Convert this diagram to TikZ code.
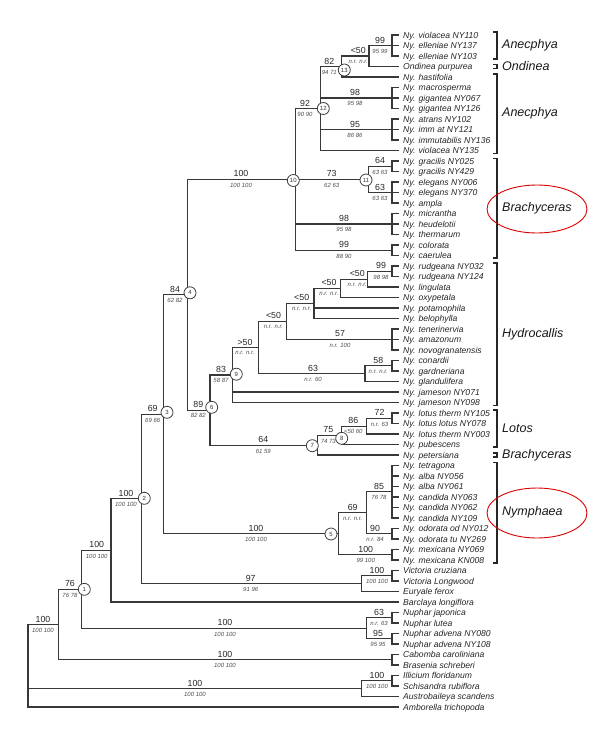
\documentclass[tikz,border=0pt]{standalone}
\usepackage{fontspec}
\setmainfont{Liberation Sans}
\begin{document}
\begin{tikzpicture}[x=1pt,y=-1pt,
  br/.style={draw=black!78,line width=1.05pt,line cap=rect},
  leaf/.style={anchor=west,inner xsep=5pt,inner ysep=0pt,text height=6.1pt,text depth=0pt,font=\fontsize{8.6}{10}\selectfont\itshape,text=black!85},
  bnum/.style={inner sep=0pt,font=\fontsize{8.8}{10}\selectfont,text=black!85},
  snum/.style={inner sep=0pt,font=\fontsize{6}{7}\selectfont\itshape,text=black!70},
  knot/.style={circle,draw=black!75,fill=white,line width=0.8pt,minimum size=12pt,inner sep=0pt,font=\fontsize{6}{7}\selectfont,text=black!80},
  grp/.style={anchor=west,inner sep=0pt,font=\fontsize{12.5}{14}\selectfont\itshape,text=black!90},
  brk/.style={draw=black!85,line width=1.2pt},
  oval/.style={draw=red!85!black,line width=0.9pt}]
\useasboundingbox[fill=white] (0,0) rectangle (595,739);
\newcommand\cl[4]{%
  \draw[br] (#1 |- #2) -- (#1 |- #3);
  \foreach \ch in {#4}{\draw[br] (#1 |- \ch) -- (\ch);}}
\newcommand\bl[4]{%
  \node[bnum] at (#1,{#2-5.5}) {#3};
  \node[snum] at (#1,{#2+5.8}) {#4};}
% leaves
\foreach \nm [count=\i] in {Ny. violacea NY110,Ny. elleniae NY137,Ny. elleniae NY103,Ondinea purpurea,Ny. hastifolia,Ny. macrosperma,Ny. gigantea NY067,Ny. gigantea NY126,Ny. atrans NY102,Ny. imm at NY121,Ny. immutabilis NY136,Ny. violacea NY135,Ny. gracilis NY025,Ny. gracilis NY429,Ny. elegans NY006,Ny. elegans NY370,Ny. ampla,Ny. micrantha,Ny. heudelotii,Ny. thermarum,Ny. colorata,Ny. caerulea,Ny. rudgeana NY032,Ny. rudgeana NY124,Ny. lingulata,Ny. oxypetala,Ny. potamophila,Ny. belophylla,Ny. tenerinervia,Ny. amazonum,Ny. novogranatensis,Ny. conardii,Ny. gardneriana,Ny. glandulifera,Ny. jameson NY071,Ny. jameson NY098,Ny. lotus therm NY105,Ny. lotus lotus NY078,Ny. lotus therm NY003,Ny. pubescens,Ny. petersiana,Ny. tetragona,Ny. alba NY056,Ny. alba NY061,Ny. candida NY063,Ny. candida NY062,Ny. candida NY109,Ny. odorata od NY012,Ny. odorata tu NY269,Ny. mexicana NY069,Ny. mexicana KN008,Victoria cruziana,Victoria Longwood,Euryale ferox,Barclaya longiflora,Nuphar japonica,Nuphar lutea,Nuphar advena NY080,Nuphar advena NY108,Cabomba caroliniana,Brasenia schreberi,Illicium floridanum,Schisandra rubiflora,Austrobaileya scandens,Amborella trichopoda}
  {\node[leaf] (l\i) at (398,{35+10.5*(\i-1)}) {\nm};}
% internal nodes
\coordinate (c99a) at (392,45.5);
\coordinate (c50a) at (369,56);
\coordinate (n13) at (341.7,66.5);
\coordinate (c98a) at (392,98);
\coordinate (c95) at (392,129.5);
\coordinate (n12) at (320.7,108.5);
\coordinate (c64) at (392,166.25);
\coordinate (c63a) at (392,192.5);
\coordinate (n11) at (368.3,179.4);
\coordinate (c98b) at (392,224);
\coordinate (c99b) at (392,250.25);
\coordinate (n10) at (295.7,179.4);
\coordinate (c99c) at (392,271.25);
\coordinate (cB) at (367.3,279.1);
\coordinate (cC) at (340.7,288.3);
\coordinate (cD) at (314,303.4);
\coordinate (c57) at (392,339.5);
\coordinate (cE) at (286.7,321.45);
\coordinate (c58) at (392,365.75);
\coordinate (c63b) at (365,373.6);
\coordinate (cF) at (258.3,347.5);
\coordinate (n9) at (232.7,375);
\coordinate (c72) at (392,418.25);
\coordinate (c86) at (366.7,426.1);
\coordinate (n8) at (341.7,435.3);
\coordinate (n7) at (317.3,445.2);
\coordinate (n6) at (210,410.1);
\coordinate (n4) at (187.3,294.7);
\coordinate (c85) at (392,491.75);
\coordinate (c90) at (392,533.75);
\coordinate (c69) at (366.7,512.75);
\coordinate (cMx) at (392,554.75);
\coordinate (n5) at (338.3,533.75);
\coordinate (n3) at (163.7,414.2);
\coordinate (cVic) at (392,575.75);
\coordinate (cVE) at (361.7,583.6);
\coordinate (n2) at (141.3,498.9);
\coordinate (nB) at (111,550.45);
\coordinate (cNj) at (392,617.75);
\coordinate (cNa) at (392,638.75);
\coordinate (cNu) at (366.7,628.25);
\coordinate (n1) at (81.7,589.35);
\coordinate (cCab) at (392,659.75);
\coordinate (nNy) at (58.3,624.55);
\coordinate (cIll) at (392,680.75);
\coordinate (cANA) at (361.7,688.6);
\coordinate (root) at (28.3,666);
% branches
\cl{c99a}{l1}{l3}{l1,l2,l3}
\cl{c50a}{c99a}{l4}{c99a,l4}
\cl{n13}{c50a}{l5}{c50a,l5}
\cl{c98a}{l6}{l8}{l6,l7,l8}
\cl{c95}{l9}{l11}{l9,l10,l11}
\cl{n12}{n13}{l12}{n13,c98a,c95,l12}
\cl{c64}{l13}{l14}{l13,l14}
\cl{c63a}{l15}{l17}{l15,l16,l17}
\cl{n11}{c64}{c63a}{c64,c63a}
\cl{c98b}{l18}{l20}{l18,l19,l20}
\cl{c99b}{l21}{l22}{l21,l22}
\cl{n10}{n12}{c99b}{n12,n11,c98b,c99b}
\cl{c99c}{l23}{l24}{l23,l24}
\cl{cB}{c99c}{l25}{c99c,l25}
\cl{cC}{cB}{l26}{cB,l26}
\cl{cD}{cC}{l28}{cC,l27,l28}
\cl{c57}{l29}{l31}{l29,l30,l31}
\cl{cE}{cD}{c57}{cD,c57}
\cl{c58}{l32}{l33}{l32,l33}
\cl{c63b}{c58}{l34}{c58,l34}
\cl{cF}{cE}{c63b}{cE,c63b}
\cl{n9}{cF}{l36}{cF,l35,l36}
\cl{c72}{l37}{l38}{l37,l38}
\cl{c86}{c72}{l39}{c72,l39}
\cl{n8}{c86}{l40}{c86,l40}
\cl{n7}{n8}{l41}{n8,l41}
\cl{n6}{n9}{n7}{n9,n7}
\cl{n4}{n10}{n6}{n10,n6}
\cl{c85}{l42}{l47}{l42,l43,l44,l45,l46,l47}
\cl{c90}{l48}{l49}{l48,l49}
\cl{c69}{c85}{c90}{c85,c90}
\cl{cMx}{l50}{l51}{l50,l51}
\cl{n5}{c69}{cMx}{c69,cMx}
\cl{n3}{n4}{n5}{n4,n5}
\cl{cVic}{l52}{l53}{l52,l53}
\cl{cVE}{cVic}{l54}{cVic,l54}
\cl{n2}{n3}{cVE}{n3,cVE}
\cl{nB}{n2}{l55}{n2,l55}
\cl{cNj}{l56}{l57}{l56,l57}
\cl{cNa}{l58}{l59}{l58,l59}
\cl{cNu}{cNj}{cNa}{cNj,cNa}
\cl{n1}{nB}{cNu}{nB,cNu}
\cl{cCab}{l60}{l61}{l60,l61}
\cl{nNy}{n1}{cCab}{n1,cCab}
\cl{cIll}{l62}{l63}{l62,l63}
\cl{cANA}{cIll}{l64}{cIll,l64}
\cl{root}{nNy}{l65}{nNy,cANA,l65}
\draw[br,line width=2pt] (root |- nNy) -- (root |- l65);
% support values
\bl{43}{624.55}{100}{100 100}
\bl{70}{589.35}{76}{76 78}
\bl{96.7}{550.45}{100}{100 100}
\bl{126}{498.9}{100}{100 100}
\bl{152.7}{414.2}{69}{69 66}
\bl{175}{294.7}{84}{62 82}
\bl{241}{179.4}{100}{100 100}
\bl{305}{108.5}{92}{90 90}
\bl{329.3}{66.5}{82}{94 71}
\bl{358.3}{56}{<50}{n.r. n.r.}
\bl{380}{45.5}{99}{95 99}
\bl{355}{98}{98}{95 98}
\bl{355}{129.5}{95}{86 86}
\bl{331.7}{179.4}{73}{62 63}
\bl{380}{166.25}{64}{63 63}
\bl{380}{192.5}{63}{63 63}
\bl{344}{224}{98}{95 98}
\bl{344}{250.25}{99}{88 90}
\bl{198.3}{410.1}{89}{82 82}
\bl{221}{375}{83}{58 87}
\bl{245}{347.5}{>50}{n.r. n.r.}
\bl{273.5}{321.45}{<50}{n.r. n.r.}
\bl{301.7}{303.4}{<50}{n.r. n.r.}
\bl{329}{288.3}{<50}{n.r. n.r.}
\bl{357.3}{279.1}{<50}{n.r. n.r.}
\bl{381}{271.25}{99}{98 98}
\bl{340}{339.5}{57}{n.r. 100}
\bl{313}{373.6}{63}{n.r. 60}
\bl{378.3}{365.75}{58}{n.r. n.r.}
\bl{263.3}{445.2}{64}{61 59}
\bl{328.3}{435.3}{75}{74 73}
\bl{353.3}{426.1}{86}{<50 60}
\bl{379.5}{418.25}{72}{n.r. 63}
\bl{256}{533.75}{100}{100 100}
\bl{352.7}{512.75}{69}{n.r. n.r.}
\bl{379}{491.75}{85}{76 78}
\bl{375}{533.75}{90}{n.r. 84}
\bl{365.7}{554.75}{100}{99 100}
\bl{250.7}{583.6}{97}{91 96}
\bl{377}{575.75}{100}{100 100}
\bl{225}{628.25}{100}{100 100}
\bl{379}{617.75}{63}{n.r. 63}
\bl{378}{638.75}{95}{95 95}
\bl{225}{659.75}{100}{100 100}
\bl{195}{688.6}{100}{100 100}
\bl{377}{680.75}{100}{100 100}
% numbered node circles
\node[knot] (k1) at (84.3,589.3) {1};
\node[knot] (k2) at (144.3,498.3) {2};
\node[knot] (k3) at (167,412.3) {3};
\node[knot] (k4) at (190,292.8) {4};
\node[knot] (k5) at (331,534) {5};
\node[knot] (k6) at (211.7,407.3) {6};
\node[knot] (k7) at (312.3,445.7) {7};
\node[knot] (k8) at (341.7,438.3) {8};
\node[knot] (k9) at (236.3,374.2) {9};
\node[knot] (k10) at (293.3,180.5) {10};
\node[knot] (k11) at (366,180) {11};
\node[knot] (k12) at (323.3,108.5) {12};
\node[knot] (k13) at (344.3,70) {13};
% group brackets
\newcommand\grpb[4]{%
  \draw[brk] (493,#1) -- (497,#1) -- (497,#2) -- (493,#2);
  \node[grp] (#4) at (502,{(#1+#2)/2}) {#3};}
\grpb{32}{59}{Anecphya}{gA1}
\grpb{64.5}{68.5}{Ondinea}{gO}
\grpb{74}{153.5}{Anecphya}{gA2}
\grpb{158.5}{258}{Brachyceras}{gB1}
\grpb{263}{405.5}{Hydrocallis}{gH}
\grpb{410}{447}{Lotos}{gL}
\grpb{453}{457}{Brachyceras}{gB2}
\grpb{462.5}{563}{Nymphaea}{gN}
% red ovals
\draw[oval] (537,209) ellipse [x radius=50pt, y radius=24pt];
\draw[oval] (537,513) ellipse [x radius=50pt, y radius=25pt];
\end{tikzpicture}
\end{document}
